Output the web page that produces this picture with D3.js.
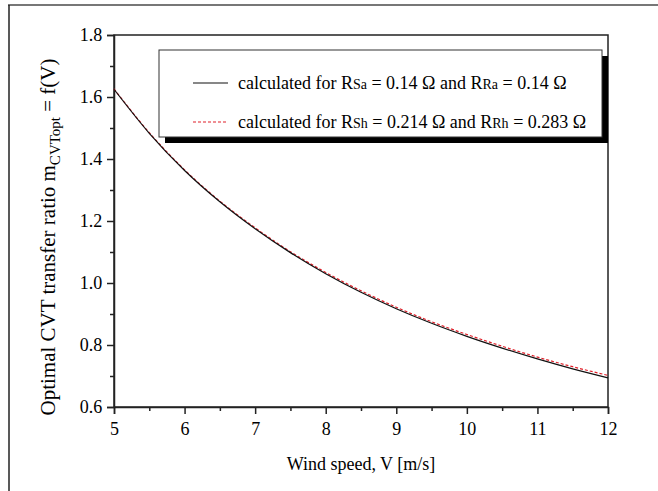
<!DOCTYPE html>
<html lang="en">
  <head>
    <script src="https://d3js.org/d3.v7.min.js"></script>
    <style>
      body { margin: 0; background: #fff; }
      text { font-family: "Liberation Serif", "DejaVu Serif", serif; fill: #000; }
    </style>
  </head>
  <body>
    <script>
      // wind speed values [m/s]
      var speeds = [5, 5.5, 6, 6.5, 7, 7.5, 8, 8.5, 9, 9.5, 10, 10.5, 11, 11.5, 12];
      // m_CVTopt for RSa = RRa = 0.14 ohm
      var ratioA = [1.625, 1.483, 1.363, 1.262, 1.175, 1.098, 1.03, 0.97, 0.917, 0.87, 0.828, 0.79, 0.755, 0.723, 0.694];
      // m_CVTopt for RSh = 0.214, RRh = 0.283 ohm
      var ratioH = [1.626, 1.485, 1.365, 1.264, 1.178, 1.101, 1.034, 0.975, 0.922, 0.875, 0.834, 0.796, 0.761, 0.73, 0.702];
      var xTicks = [5, 6, 7, 8, 9, 10, 11, 12];
      var yTicks = [0.6, 0.8, 1.0, 1.2, 1.4, 1.6, 1.8];

      var width = 658,
        height = 491;
      var mLeft = 114, mRight = 608, mTop = 35, mBottom = 407;

      var svg = d3.select("body")
        .append("svg")
        .attr("width", width)
        .attr("height", height);

      // outer page frame (top and left only)
      svg.append("line").attr("x1", 8).attr("x2", width).attr("y1", 5).attr("y2", 5)
        .attr("stroke", "#777").attr("stroke-width", 2);
      svg.append("line").attr("x1", 9).attr("x2", 9).attr("y1", 5).attr("y2", height)
        .attr("stroke", "#222").attr("stroke-width", 1.5);

      var x = d3.scaleLinear().domain([5, 12]).range([mLeft, mRight]);
      var y = d3.scaleLinear().domain([0.6, 1.8]).range([mBottom, mTop]);

      // plot frame
      svg.append("rect")
        .attr("x", mLeft).attr("y", mTop)
        .attr("width", mRight - mLeft).attr("height", mBottom - mTop)
        .attr("fill", "none").attr("stroke", "#222").attr("stroke-width", 1.5);

      // bottom axis
      var xAxis = svg.append("g")
        .attr("transform", "translate(0," + mBottom + ")")
        .call(d3.axisBottom(x).tickValues(xTicks).tickSize(7).tickFormat(d3.format("d")));
      svg.append("g")
        .attr("transform", "translate(0," + mBottom + ")")
        .call(d3.axisBottom(x).tickValues(d3.range(5.5, 12, 1)).tickSize(4).tickFormat(""))
        .call(function (g) { g.select(".domain").remove(); });

      // left axis
      var yAxis = svg.append("g")
        .attr("transform", "translate(" + mLeft + ",0)")
        .call(d3.axisLeft(y).tickValues(yTicks).tickSize(7).tickFormat(d3.format(".1f")));
      svg.append("g")
        .attr("transform", "translate(" + mLeft + ",0)")
        .call(d3.axisLeft(y).tickValues([0.7, 0.9, 1.1, 1.3, 1.5, 1.7]).tickSize(4).tickFormat(""))
        .call(function (g) { g.select(".domain").remove(); });

      svg.selectAll(".tick line").attr("stroke", "#222").attr("stroke-width", 1.5);
      svg.selectAll(".domain").attr("stroke", "#222").attr("stroke-width", 1.5);
      xAxis.attr("font-family", "Liberation Serif").attr("font-size", 18);
      yAxis.attr("font-family", "Liberation Serif").attr("font-size", 18);
      xAxis.selectAll("text").attr("dy", "0.98em");
      yAxis.selectAll("text").attr("dx", "-0.1em");

      // curves
      var line = d3.line().curve(d3.curveMonotoneX);
      svg.append("path")
        .attr("d", line(speeds.map(function (v, i) { return [x(v), y(ratioH[i])]; })))
        .attr("fill", "none").attr("stroke", "#e0202a").attr("stroke-width", 1.2)
        .attr("stroke-dasharray", "3,2");
      svg.append("path")
        .attr("d", line(speeds.map(function (v, i) { return [x(v), y(ratioA[i])]; })))
        .attr("fill", "none").attr("stroke", "#111").attr("stroke-width", 1.2);

      // legend with drop shadow
      var lg = svg.append("g");
      lg.append("rect").attr("x", 165).attr("y", 56).attr("width", 443).attr("height", 87).attr("fill", "#000");
      lg.append("rect").attr("x", 159).attr("y", 50).attr("width", 443).attr("height", 87)
        .attr("fill", "#fff").attr("stroke", "#333").attr("stroke-width", 1);

      lg.append("line").attr("x1", 193).attr("x2", 228).attr("y1", 83).attr("y2", 83)
        .attr("stroke", "#111").attr("stroke-width", 1.2);
      lg.append("line").attr("x1", 193).attr("x2", 228).attr("y1", 122).attr("y2", 122)
        .attr("stroke", "#e0202a").attr("stroke-width", 1.2).attr("stroke-dasharray", "3,2");

      function legendText(yy, parts) {
        var t = lg.append("text").attr("x", 238).attr("y", yy).style("font-size", "18px");
        parts.forEach(function (p) {
          t.append("tspan").style("font-size", p[1] ? "14px" : "18px").text(p[0]);
        });
      }
      legendText(89, [["calculated for R", 0], ["Sa", 1], [" = 0.14 \u03A9 and R", 0], ["Ra", 1], [" = 0.14 \u03A9", 0]]);
      legendText(128, [["calculated for R", 0], ["Sh", 1], [" = 0.214 \u03A9 and R", 0], ["Rh", 1], [" = 0.283 \u03A9", 0]]);

      // axis titles
      svg.append("text")
        .attr("x", (mLeft + mRight) / 2).attr("y", 470)
        .attr("text-anchor", "middle").style("font-size", "18px")
        .text("Wind speed, V [m/s]");

      var yt = svg.append("text")
        .attr("transform", "translate(55,237) rotate(-90)")
        .attr("text-anchor", "middle").style("font-size", "21px");
      yt.append("tspan").text("Optimal CVT transfer ratio m");
      yt.append("tspan").style("font-size", "15px").attr("dy", 5).text("CVTopt");
      yt.append("tspan").attr("dy", -5).text(" = f(V)");
    </script>
  </body>
</html>
